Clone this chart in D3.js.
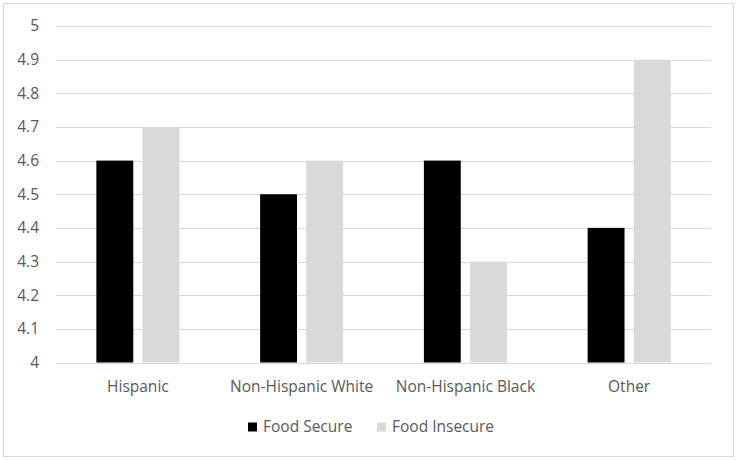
<!DOCTYPE html>
<html><head><meta charset="utf-8">
<script src="https://cdn.jsdelivr.net/npm/d3@7"></script>
<style>body{margin:0;background:#fff}svg{display:block}</style>
</head><body>
<script>
const categories = ["Hispanic", "Non-Hispanic White", "Non-Hispanic Black", "Other"];
const seriesNames = ["Food Secure", "Food Insecure"];
const foodSecure = [4.6, 4.5, 4.6, 4.4];
const foodInsecure = [4.7, 4.6, 4.3, 4.9];
const yTicks = [4, 4.1, 4.2, 4.3, 4.4, 4.5, 4.6, 4.7, 4.8, 4.9, 5];
const colors = ["#000000", "#d9d9d9"];

const W = 737, H = 460;
const svg = d3.select("body").append("svg").attr("width", W).attr("height", H);
const font = "'Open Sans', 'Liberation Sans', sans-serif";
const fs = 15.5;

svg.append("rect").attr("x", 3.5).attr("y", 3.5).attr("width", 730).attr("height", 453)
  .attr("fill", "#fff").attr("stroke", "#d9d9d9").attr("stroke-width", 1);

const x = d3.scaleBand().domain(categories).range([56, 711]);
const y = d3.scaleLinear().domain([4, 5]).range([362.5, 26]);
const x1 = d3.scaleBand().domain(seriesNames).range([0, 83]).paddingInner(0.2);

// grid
svg.append("g").selectAll("line").data(yTicks).join("line")
  .attr("x1", 56).attr("x2", 711)
  .attr("y1", d => Math.round(y(d)) + 0.5).attr("y2", d => Math.round(y(d)) + 0.5)
  .attr("stroke", "#d9d9d9").attr("stroke-width", 1);

// y axis labels via axis
const yAxis = d3.axisLeft(y).tickValues(yTicks).tickSize(0).tickPadding(0)
  .tickFormat(d => d3.format("~g")(d));
const ya = svg.append("g").attr("transform", "translate(39,0)").call(yAxis);
ya.select(".domain").remove();
ya.selectAll("text").attr("font-family", font).attr("font-size", fs).attr("fill", "#595959");

const data = categories.map((c, i) => ({c, vals: [foodSecure[i], foodInsecure[i]]}));
const groups = svg.append("g").selectAll("g").data(data).join("g")
  .attr("transform", d => `translate(${x(d.c) + x.bandwidth() / 2 - 41.5},0)`);
groups.selectAll("rect").data(d => d.vals.map((v, j) => ({v, s: seriesNames[j], j})))
  .join("rect")
  .attr("x", d => x1(d.s)).attr("width", x1.bandwidth())
  .attr("y", d => y(d.v)).attr("height", d => y(4) - y(d.v))
  .attr("fill", d => colors[d.j]);

// x axis labels
const xAxis = d3.axisBottom(x).tickSize(0).tickPadding(0);
const xa = svg.append("g").attr("transform", "translate(0,392)").call(xAxis);
xa.select(".domain").remove();
xa.selectAll("text").attr("font-family", font).attr("font-size", fs).attr("fill", "#595959").attr("dy", "0");

// legend
const legendX = [248, 377];
const lg = svg.append("g").selectAll("g").data(seriesNames).join("g")
  .attr("transform", (d, i) => `translate(${legendX[i]},0)`);
lg.append("rect").attr("x", 0).attr("y", 422.5).attr("width", 9).attr("height", 9)
  .attr("fill", (d, i) => colors[i]);
lg.append("text").attr("x", 15).attr("y", 432).text(d => d)
  .attr("font-family", font).attr("font-size", fs).attr("fill", "#595959");
</script>
</body></html>
